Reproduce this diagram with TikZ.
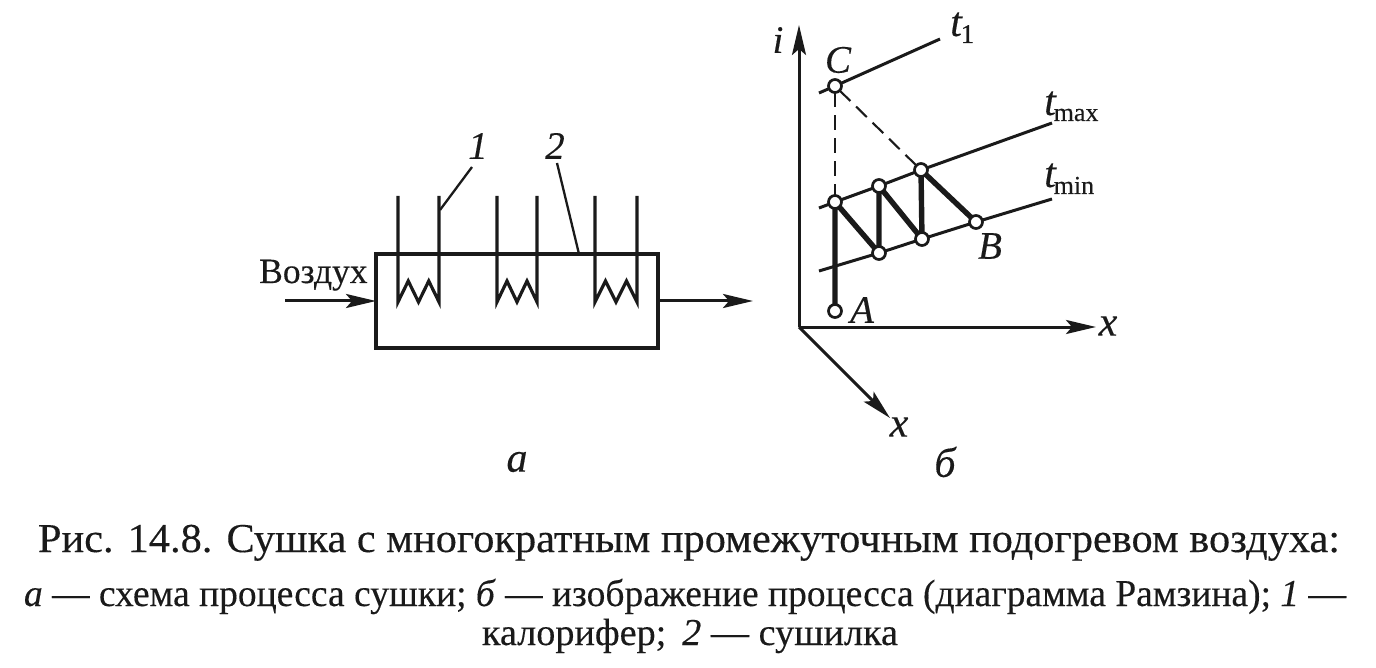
\documentclass[tikz,border=0pt]{standalone}
\usepackage{fontspec}
\setmainfont{Liberation Serif}[FakeBold=0.3]
\usetikzlibrary{arrows.meta,backgrounds,calc}
\definecolor{ink}{HTML}{1A1A1A}
\newcommand{\fs}[1]{\fontsize{#1}{#1}\selectfont}
\tikzset{
  thinline/.style={draw=ink,line width=3pt},
  thickline/.style={draw=ink,line width=5.4pt},
  dashline/.style={draw=ink,line width=2.1pt,dash pattern=on 15pt off 8pt},
  flow/.style={thinline,-{Stealth[length=30pt,width=14pt,inset=6pt]}},
  leader/.style={draw=ink,line width=2.3pt},
  pnt/.style={circle,draw=ink,line width=2.7pt,fill=white,minimum size=13pt,inner sep=0pt,outer sep=0pt},
  lab/.style={inner sep=0pt,text=ink},
  num/.style={inner sep=0pt,text=ink,font=\fs{39}\itshape},
  captext/.style={inner sep=0pt,text=ink,anchor=base},
}
\begin{document}
\begin{tikzpicture}[x=1pt,y=-1pt]
\useasboundingbox (0,0) rectangle (1376,668);
% ---- left scheme ----
\node[draw=ink,line width=3.4pt,minimum width=282pt,minimum height=94pt,inner sep=0pt,outer sep=0pt,anchor=north west] (dryer) at (376,254) {};
\foreach \n/\l/\r in {h1/398/439,h2/497/537,h3/595/637}{
  \coordinate (\n lt) at (\l,196);
  \coordinate (\n rt) at (\r,196);
  \coordinate (\n lb) at (\l,302);
  \coordinate (\n rb) at (\r,302);
  \draw[thinline,line width=3.2pt,line join=miter] (\n lt) -- (\n lb)
     -- ($(\n lb)!0.25!(\n rb)+(0,-21)$) -- ($(\n lb)!0.5!(\n rb)$)
     -- ($(\n lb)!0.75!(\n rb)+(0,-21)$) -- (\n rb) -- (\n rt);
}
\coordinate (inS) at (285,301);
\coordinate (outS) at (659,301);
\coordinate (outE) at (753,301);
\draw[flow] (inS) -- (inS -| dryer.west);
\draw[flow] (outS) -- (outE);
\node[lab,anchor=base west] (air) at (259,283) {\fs{35.5}Воздух};
\node[num] (n1) at (478,146) {1};
\node[num] (n2) at (555,146) {2};
\coordinate (n1a) at (440,210);
\coordinate (n2a) at (579,254);
\coordinate (n1b) at (472,167);
\coordinate (n2b) at (557,163);
\draw[leader] (n1a) -- (n1b);
\draw[leader] (n2a) -- (n2b);
\node[num,font=\fs{42}\itshape] (la) at (517,462) {а};
% ---- right diagram ----
\coordinate (O) at (799,327);
\coordinate (iE) at (799,25);
\coordinate (xE) at (1096,327);
\coordinate (zE) at (890,418);
\draw[flow] (O) -- (iE);
\draw[flow] (O) -- (xE);
\draw[flow] (O) -- (zE);
\node[pnt] (C) at (835,86) {};
\node[pnt] (P1) at (835,202) {};
\node[pnt] (P2) at (879,186) {};
\node[pnt] (P3) at (921,170) {};
\node[pnt] (Q1) at (879,253) {};
\node[pnt] (Q2) at (922,239) {};
\node[pnt] (B) at (976,222) {};
\node[pnt] (A) at (835,311) {};
\begin{pgfonlayer}{background}
\coordinate (t1a) at (819,93);
\coordinate (t1b) at (940,39);
\coordinate (tMa) at (819,208);
\coordinate (tMb) at (1052,123);
\coordinate (tma) at (819,271);
\coordinate (tmb) at (1052,199);
\draw[thinline] (t1a) -- (C) -- (t1b);
\draw[thinline] (tMa) -- (P1) -- (P2) -- (P3) -- (tMb);
\draw[thinline] (tma) -- (Q1) -- (Q2) -- (B) -- (tmb);
\draw[dashline] (C) -- (P1);
\draw[dashline] (C) -- (P3);
\draw[thickline] (A) -- (P1) -- (Q1) -- (P2) -- (Q2) -- (P3) -- (B);
\end{pgfonlayer}
\node[num] (li) at (778,40) {i};
\node[num] (lC) at (838,60) {C};
\node[num] (lA) at (862,310) {A};
\node[num] (lB) at (990,246) {B};
\node[num,font=\fs{42}\itshape] (lx) at (1108,326) {x};
\node[num,font=\fs{42}\itshape] (lz) at (899,427) {x};
\node[lab,anchor=base west] (lt1) at (950,36) {\fs{42}\textit{t}\kern-2pt\raisebox{-7pt}{\fs{27}1}};
\node[lab,anchor=base west] (ltM) at (1044,115) {\fs{42}\textit{t}\kern-3pt\raisebox{-6pt}{\fs{26}max}};
\node[lab,anchor=base west] (ltm) at (1044,187) {\fs{42}\textit{t}\kern-3pt\raisebox{-7pt}{\fs{26}min}};
\node[num,font=\fs{42}\itshape] (lb) at (945,462) {б};
% ---- caption ----
\node[captext] (cap1) at (689,552) {\resizebox{1302pt}{\height}{\fs{41}Рис. 14.8. Сушка с многократным промежуточным подогревом воздуха:}};
\node[captext] (cap2) at (685,606) {\resizebox{1322pt}{\height}{\fs{38}\textit{а} — схема процесса сушки; \textit{б} — изображение процесса (диаграмма Рамзина); \textit{1} —}};
\node[captext] (cap3) at (690,645) {\resizebox{416pt}{\height}{\fs{38}калорифер;\, \textit{2} — сушилка}};
\end{tikzpicture}
\end{document}
